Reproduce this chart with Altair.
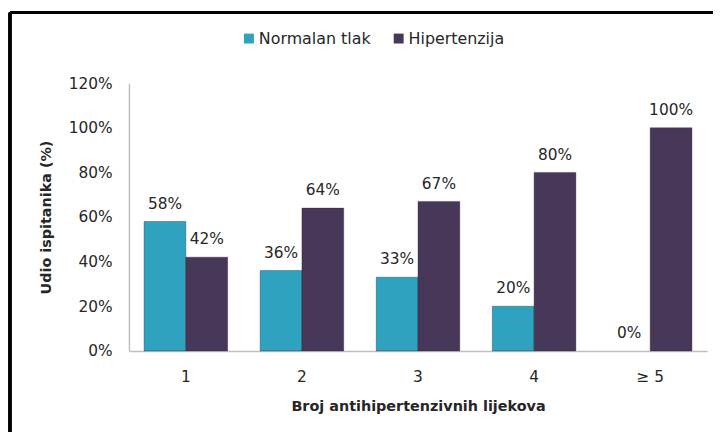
import altair as alt
import pandas as pd

categories = ["1", "2", "3", "4", "≥ 5"]
series = ["Normalan tlak", "Hipertenzija"]
normalan = [58, 36, 33, 20, 0]
hipertenzija = [42, 64, 67, 80, 100]
y_ticks = [0, 20, 40, 60, 80, 100, 120]
colors = ["#2FA2BF", "#47385A"]

rows = []
for i, c in enumerate(categories):
    rows.append({"cat": c, "series": series[0], "value": normalan[i], "label": f"{normalan[i]}%"})
    rows.append({"cat": c, "series": series[1], "value": hipertenzija[i], "label": f"{hipertenzija[i]}%"})
df = pd.DataFrame(rows)

FONT = "DejaVu Sans"
TXT = "#262626"

x_enc = alt.X("cat:N", sort=categories,
              scale=alt.Scale(paddingInner=0.28, paddingOuter=0.13),
              axis=alt.Axis(title="Broj antihipertenzivnih lijekova", labelAngle=0,
                            ticks=False, labelPadding=19, titlePadding=15,
                            domainColor="#BFBFBF", domainWidth=1.5,
                            labelFontSize=15.5, titleFontSize=14.5, titleFontWeight="bold",
                            labelColor=TXT, titleColor=TXT))
y_enc = alt.Y("value:Q", scale=alt.Scale(domain=[0, 120]),
              axis=alt.Axis(title="Udio ispitanika (%)", values=y_ticks, grid=False,
                            ticks=False, labelPadding=17, titlePadding=15,
                            labelExpr="datum.value + '%'",
                            domainColor="#BFBFBF", domainWidth=1.5,
                            labelFontSize=15.5, titleFontSize=14.5, titleFontWeight="bold",
                            labelColor=TXT, titleColor=TXT))

bars = alt.Chart(df).mark_bar(stroke="#1f1f2f", strokeWidth=1).encode(
    x=x_enc,
    xOffset=alt.XOffset("series:N", sort=series),
    y=y_enc,
    strokeOpacity=alt.condition("datum.value > 0", alt.value(0.35), alt.value(0)),
    color=alt.Color("series:N", sort=series,
                    scale=alt.Scale(domain=series, range=colors),
                    legend=alt.Legend(title=None, orient="none", direction="horizontal",
                                      legendX=113, legendY=-53, symbolType="square",
                                      symbolSize=100, labelFontSize=16, labelColor=TXT,
                                      columnPadding=20, labelOffset=2,
                                      symbolStrokeWidth=0)),
)

labels = alt.Chart(df).mark_text(baseline="bottom", dy=-10, fontSize=15.5, color=TXT, font=FONT).encode(
    x=alt.X("cat:N", sort=categories),
    xOffset=alt.XOffset("series:N", sort=series),
    y="value:Q",
    text="label:N",
)

frame_top = alt.Chart(df).mark_rule(color="black", strokeWidth=2.5).encode(
    x=alt.value(-120), x2=alt.value(600), y=alt.value(-71))
frame_left = alt.Chart(df).mark_rule(color="black", strokeWidth=2.5).encode(
    x=alt.value(-120), y=alt.value(-71), y2=alt.value(360))

chart = alt.layer(bars, labels, frame_top, frame_left).properties(
    width=583, height=270,
    autosize=alt.AutoSizeParams(type="none"),
    padding={"left": 122, "top": 74, "right": 6, "bottom": 80},
).configure(font=FONT).configure_view(stroke=None)

chart.save("out.html", embed_options={"renderer": "svg", "actions": False})
